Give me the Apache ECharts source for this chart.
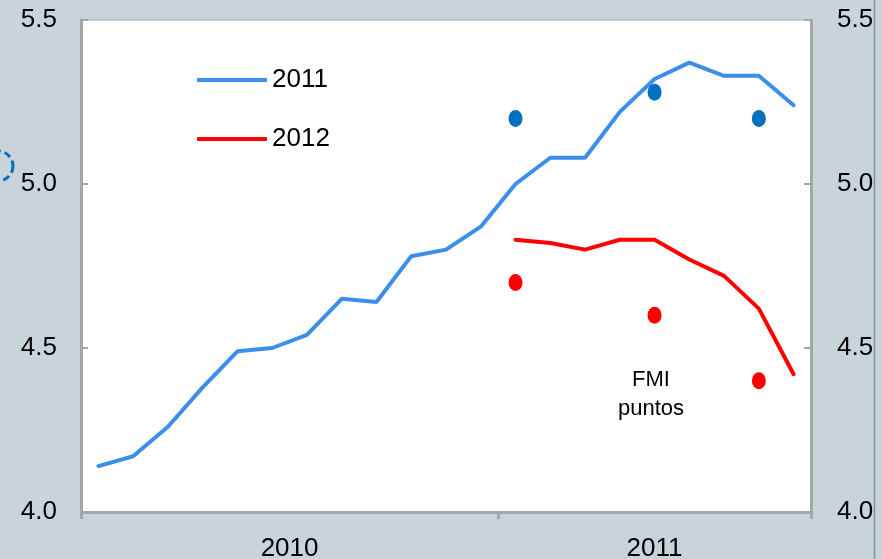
<!DOCTYPE html>
<html>
<head>
<meta charset="utf-8">
<script src="https://cdn.jsdelivr.net/npm/echarts@6/dist/echarts.min.js"></script>
<style>
  html, body { margin: 0; padding: 0; background: #c8d3da; }
  #main { width: 882px; height: 559px; }
</style>
</head>
<body>
<div id="main"></div>
<script>
// meses de pronóstico: ene-2010 .. sep-2011
var months = ['ene-10', 'feb-10', 'mar-10', 'abr-10', 'may-10', 'jun-10', 'jul-10', 'ago-10', 'sep-10', 'oct-10', 'nov-10', 'dic-10',
    'ene-11', 'feb-11', 'mar-11', 'abr-11', 'may-11', 'jun-11', 'jul-11', 'ago-11', 'sep-11'];
var years = ['2010', '2011'];
var monthsPerYear = [12, 9];

// pronóstico para 2011
var f2011 = [4.14, 4.17, 4.26, 4.38, 4.49, 4.50, 4.54, 4.65, 4.64, 4.78, 4.80, 4.87,
    5.00, 5.08, 5.08, 5.22, 5.32, 5.37, 5.33, 5.33, 5.24];
// pronóstico para 2012 (empieza en ene-11)
var f2012 = [null, null, null, null, null, null, null, null, null, null, null, null,
    4.83, 4.82, 4.80, 4.83, 4.83, 4.77, 4.72, 4.62, 4.42];

// puntos FMI
var fmiMonths = [12, 16, 19];
var fmi2011 = [5.2, 5.28, 5.2];
var fmi2012 = [4.7, 4.6, 4.4];

var yTicks = [4.0, 4.5, 5.0, 5.5];

var bg = '#c8d3da';
var axisGray = '#a6a6a6';
var font = 'Liberation Sans, Arial, sans-serif';
var fs = 26;

// límites entre años y centros de etiqueta
var yearBounds = [0];
var yearCenters = [];
for (var i = 0; i < monthsPerYear.length; i++) {
    var start = yearBounds[i];
    yearBounds.push(start + monthsPerYear[i]);
    yearCenters.push(start + monthsPerYear[i] / 2);
}

var myChart = echarts.init(document.getElementById('main'));
var option = {
    backgroundColor: bg,
    animation: false,
    textStyle: { fontFamily: font },
    grid: {
        left: 81, right: 71, top: 20, bottom: 47,
        show: true,
        backgroundColor: '#ffffff',
        borderColor: axisGray,
        borderWidth: 1,
        containLabel: false,
        outerBoundsMode: 'none'
    },
    legend: {
        orient: 'vertical',
        left: 192,
        top: 62,
        icon: 'roundRect',
        itemWidth: 70,
        itemHeight: 4,
        itemGap: 33,
        data: ['2011', '2012'],
        textStyle: { fontSize: fs, color: '#000', fontFamily: font }
    },
    xAxis: [
        {
            type: 'category',
            data: months,
            boundaryGap: true,
            axisLine: { lineStyle: { color: axisGray, width: 3 } },
            axisTick: {
                show: true,
                length: 7,
                lineStyle: { color: axisGray, width: 3 },
                interval: function (index) {
                    return yearBounds.indexOf(index) >= 0;
                }
            },
            axisLabel: { show: false },
            splitLine: { show: false }
        },
        {
            type: 'value',
            position: 'bottom',
            min: 0,
            max: months.length,
            interval: 1.5,
            axisLine: { show: false },
            axisTick: { show: false },
            splitLine: { show: false },
            axisLabel: {
                margin: 24,
                fontSize: fs,
                color: '#000',
                fontFamily: font,
                formatter: function (v) {
                    var k = yearCenters.indexOf(v);
                    return k >= 0 ? years[k] : '';
                }
            }
        }
    ],
    yAxis: [
        {
            type: 'value',
            position: 'left',
            min: yTicks[0],
            max: yTicks[yTicks.length - 1],
            interval: 0.5,
            axisLine: { show: true, lineStyle: { color: axisGray, width: 3 } },
            axisTick: { show: true, inside: true, length: 7, lineStyle: { color: axisGray, width: 2 } },
            splitLine: { show: false },
            axisLabel: {
                margin: 24, fontSize: fs, color: '#000', fontFamily: font,
                formatter: function (v) { return v.toFixed(1); }
            }
        },
        {
            type: 'value',
            position: 'right',
            min: yTicks[0],
            max: yTicks[yTicks.length - 1],
            interval: 0.5,
            axisLine: { show: true, lineStyle: { color: axisGray, width: 3 } },
            axisTick: { show: true, inside: true, length: 7, lineStyle: { color: axisGray, width: 2 } },
            splitLine: { show: false },
            axisLabel: {
                margin: 26, fontSize: fs, color: '#000', fontFamily: font,
                formatter: function (v) { return v.toFixed(1); }
            }
        }
    ],
    series: [
        {
            name: '2011',
            type: 'line',
            data: f2011,
            symbol: 'none',
            color: '#3b8eea',
            lineStyle: { width: 4, color: '#3b8eea', cap: 'round' },
            z: 3
        },
        {
            name: '2012',
            type: 'line',
            data: f2012,
            symbol: 'none',
            color: '#ff0000',
            lineStyle: { width: 4, color: '#ff0000', cap: 'round' },
            z: 3
        },
        {
            name: 'FMI 2011',
            type: 'scatter',
            data: fmiMonths.map(function (m, i) { return [m, fmi2011[i]]; }),
            symbol: 'circle',
            symbolSize: [14, 17],
            itemStyle: { color: '#0070c0', opacity: 1 },
            z: 4
        },
        {
            name: 'FMI 2012',
            type: 'scatter',
            data: fmiMonths.map(function (m, i) { return [m, fmi2012[i]]; }),
            symbol: 'circle',
            symbolSize: [14, 17],
            itemStyle: { color: '#ff0000', opacity: 1 },
            z: 4
        }
    ],
    graphic: [
        {
            type: 'text',
            x: 651,
            y: 394,
            style: {
                text: 'FMI\npuntos',
                fill: '#000',
                align: 'center',
                verticalAlign: 'middle',
                lineHeight: 29,
                font: '22px ' + font
            },
            z: 10
        },
        {
            type: 'circle',
            shape: { cx: -2, cy: 166, r: 15 },
            style: { fill: 'none', stroke: '#0070c0', lineWidth: 3, lineDash: [7, 4] },
            z: 100
        },
        {
            type: 'rect',
            shape: { x: 874, y: 0, width: 8, height: 559 },
            style: { fill: bg },
            z: 100
        },
        {
            type: 'line',
            shape: { x1: 874.5, y1: 0, x2: 874.5, y2: 559 },
            style: { stroke: '#7f9899', lineWidth: 1.5 },
            z: 101
        }
    ]
};
myChart.setOption(option);
</script>
</body>
</html>
